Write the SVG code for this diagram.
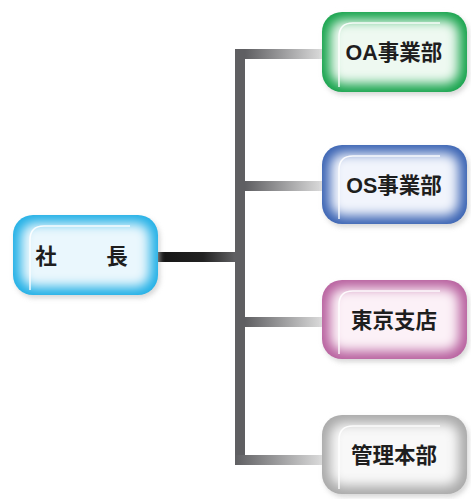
<svg xmlns="http://www.w3.org/2000/svg" width="471" height="499" viewBox="0 0 471 499">
<defs>
<style>
.lbl{font-family:"Liberation Sans","Noto Sans CJK JP",sans-serif;font-weight:bold;font-size:21.5px;fill:#1e1e1e;text-anchor:middle;dominant-baseline:central}
.hl{fill:none;stroke:#ffffff;stroke-width:1.5;opacity:0.9}
</style>
<filter id="blur" x="-20%" y="-20%" width="140%" height="140%"><feGaussianBlur stdDeviation="6"/></filter>
<filter id="sh" x="-20%" y="-20%" width="140%" height="150%"><feGaussianBlur stdDeviation="2.5"/></filter>
<linearGradient id="hg" x1="0" y1="0" x2="1" y2="0"><stop offset="0" stop-color="#5f5f62"/><stop offset="1" stop-color="#dcdcdc"/></linearGradient>
<linearGradient id="mg" x1="0" y1="0" x2="1" y2="0"><stop offset="0" stop-color="#151515"/><stop offset="0.55" stop-color="#222222"/><stop offset="1" stop-color="#6a6a6d"/></linearGradient>
</defs>
<g id="connectors">
<rect x="158" y="252" width="82" height="10" fill="url(#mg)"/>
<rect x="235" y="49" width="10" height="416" fill="#5f5f62"/>
<rect x="245" y="49" width="78" height="10" fill="url(#hg)"/>
<rect x="245" y="181" width="78" height="10" fill="url(#hg)"/>
<rect x="245" y="317" width="78" height="10" fill="url(#hg)"/>
<rect x="235" y="455" width="88" height="10" fill="url(#hg)"/>
</g>
<g id="president">
<rect x="15" y="218" width="145" height="80" rx="20" fill="#bbbbbb" opacity="0.6" filter="url(#sh)"/>
<rect x="13" y="215" width="145" height="80" rx="20" fill="#22b0e6"/>
<rect x="21" y="223" width="129" height="64" rx="14" fill="#eaf7fd" filter="url(#blur)"/>
<path class="hl" d="M30 290 V240 Q30 226 44 226 H130"/>
<text class="lbl" x="46" y="257">社</text>
<text class="lbl" x="117" y="257">長</text>
</g>
<g id="oa">
<rect x="324" y="15" width="145" height="80" rx="20" fill="#bbbbbb" opacity="0.6" filter="url(#sh)"/>
<rect x="322" y="12" width="145" height="80" rx="20" fill="#16a34c"/>
<rect x="330" y="20" width="129" height="64" rx="14" fill="#eef9f1" filter="url(#blur)"/>
<path class="hl" d="M339 87 V37 Q339 23 353 23 H440"/>
<text class="lbl" x="394" y="53">OA事業部</text>
</g>
<g id="os">
<rect x="324" y="148" width="145" height="79" rx="20" fill="#bbbbbb" opacity="0.6" filter="url(#sh)"/>
<rect x="322" y="145" width="145" height="79" rx="20" fill="#3a63b3"/>
<rect x="330" y="153" width="129" height="63" rx="14" fill="#f1f4fc" filter="url(#blur)"/>
<path class="hl" d="M339 219 V170 Q339 156 353 156 H440"/>
<text class="lbl" x="394" y="186">OS事業部</text>
</g>
<g id="tokyo">
<rect x="324" y="283" width="145" height="79" rx="20" fill="#bbbbbb" opacity="0.6" filter="url(#sh)"/>
<rect x="322" y="280" width="145" height="79" rx="20" fill="#b8619f"/>
<rect x="330" y="288" width="129" height="63" rx="14" fill="#fcf1f7" filter="url(#blur)"/>
<path class="hl" d="M339 354 V305 Q339 291 353 291 H440"/>
<text class="lbl" x="394" y="321">東京支店</text>
</g>
<g id="admin">
<rect x="324" y="418" width="145" height="79" rx="20" fill="#bbbbbb" opacity="0.6" filter="url(#sh)"/>
<rect x="322" y="415" width="145" height="79" rx="20" fill="#a9a9a9"/>
<rect x="330" y="423" width="129" height="63" rx="14" fill="#f8f8f8" filter="url(#blur)"/>
<path class="hl" d="M339 489 V440 Q339 426 353 426 H440"/>
<text class="lbl" x="394" y="456">管理本部</text>
</g>
</svg>
